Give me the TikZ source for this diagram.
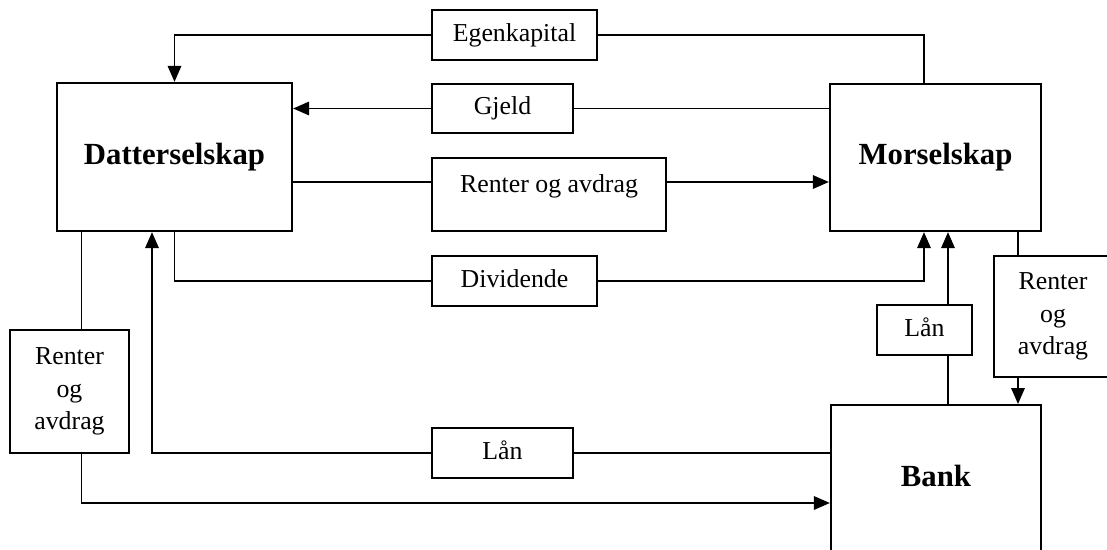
\documentclass[tikz,border=0pt]{standalone}
\usepackage{fontspec}
\setmainfont{Liberation Serif}
\usetikzlibrary{arrows.meta,backgrounds}

\tikzset{
  firm/.style={draw, line width=1.3pt, fill=white, font=\fontsize{17.5}{21}\selectfont\bfseries},
  flowbox/.style={draw, line width=1pt, fill=white, font=\fontsize{14.7}{18.5}\selectfont, align=center, inner sep=2pt},
  oneline/.style={text height=10pt, text depth=3pt},
  flow/.style={line width=1pt},
  tip/.style={-{Triangle[length=3.2mm,width=2.7mm]}}
}

\begin{document}
\begin{tikzpicture}[x=0.02cm, y=-0.02cm]
  \useasboundingbox (0,0) rectangle (1107,549);

  % Companies
  \node[firm, minimum width=4.7cm, minimum height=2.96cm] (dat) at (174.5,157) {Datterselskap};
  \node[firm, minimum width=4.22cm, minimum height=2.94cm] (mor) at (935.5,157.5) {Morselskap};
  \node[firm, minimum width=4.2cm, minimum height=3.6cm, anchor=north,
        text height=12pt, text depth=21.6pt] (bank) at (936,404) {Bank};

  % Flow labels
  \node[flowbox, oneline, minimum width=3.3cm, minimum height=1cm] (egen) at (514.5,35) {Egenkapital};
  \node[flowbox, oneline, minimum width=2.82cm, minimum height=0.98cm] (gjeld) at (502.5,108.5) {Gjeld};
  \node[flowbox, minimum width=4.68cm, minimum height=1.46cm,
        text height=10pt, text depth=12.7pt] (renM) at (549,194.5) {Renter og avdrag};
  \node[flowbox, oneline, minimum width=3.3cm, minimum height=1cm] (divid) at (514.5,281) {Dividende};
  \node[flowbox, oneline, minimum width=2.82cm, minimum height=1cm] (lanB) at (502.5,453) {Lån};
  \node[flowbox, oneline, minimum width=1.9cm, minimum height=1cm] (lanR) at (924.5,330) {Lån};
  \node[flowbox, minimum width=2.38cm, minimum height=2.46cm] (renL) at (69.5,391.5) {Renter\\og\\avdrag};
  \node[flowbox, minimum width=2.36cm, minimum height=2.42cm] (renR) at (1053,316.5) {Renter\\og\\avdrag};

  % Where the lines run
  \coordinate (egenX) at (924,0);
  \coordinate (lanX) at (948,0);
  \coordinate (renX) at (1018,0);
  \coordinate (renLX) at (81.5,0);
  \coordinate (lanBX) at (152,0);
  \coordinate (renY) at (0,182);
  \coordinate (lowY) at (0,503);

  % Flows
  \begin{scope}[on background layer]
    \draw[flow, tip] (mor.north -| egenX) |- (egen) -| (dat.north);
    \draw[flow, tip] (mor.west |- gjeld) -- (dat.east |- gjeld);
    \draw[flow, tip] (dat.east |- renY) -- (mor.west |- renY);
    \draw[flow, tip] (dat.south) |- (divid) -| (mor.south -| egenX);
    \draw[flow, tip] (bank.north -| lanX) -- (mor.south -| lanX);
    \draw[flow, tip] (mor.south -| renX) -- (bank.north -| renX);
    \draw[flow, tip] (dat.south -| renLX) |- (bank.west |- lowY);
    \draw[flow, tip] (bank.west |- lanB) -| (dat.south -| lanBX);
  \end{scope}
\end{tikzpicture}
\end{document}
